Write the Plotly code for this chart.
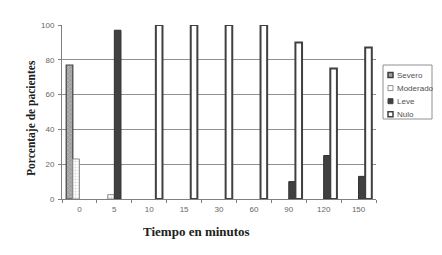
import plotly.graph_objects as go

# Tiempo (min) y porcentaje de pacientes por grado (None = sin barra)
tiempos = ["0", "5", "10", "15", "30", "60", "90", "120", "150"]
severo = [77, None, None, None, None, None, None, None, None]
moderado = [23, 2.5, None, None, None, None, None, None, None]
leve = [None, 97, None, None, None, None, 10, 25, 13]
nulo = [None, None, 100, 100, 100, 100, 90, 75, 87]
y_ticks = [0, 20, 40, 60, 80, 100]

series = [
    ("Severo", severo, dict(color="#b0b0b0", line=dict(color="#404040", width=1.2),
                            pattern=dict(shape="x", fgcolor="#707070", size=3, solidity=0.4))),
    ("Moderado", moderado, dict(color="#ffffff", line=dict(color="#909090", width=1),
                                pattern=dict(shape=".", fgcolor="#b0b0b0", size=3, solidity=0.3))),
    ("Leve", leve, dict(color="#404040", line=dict(color="#303030", width=1))),
    ("Nulo", nulo, dict(color="#ffffff", line=dict(color="#404040", width=2))),
]

fig = go.Figure()
for name, vals, marker in series:
    fig.add_bar(x=tiempos, y=vals, name=name, marker=marker, showlegend=False)

# Área del gráfico en px y conversión a coordenadas de papel
L, R, T, B = 62, 376, 25, 199
def px_x(v): return (v - L) / (R - L)
def px_y(v): return (B - v) / (B - T)

serif_bold = dict(family="Liberation Serif, Times New Roman", color="#202020", weight="bold")

# Leyenda compacta dibujada a mano
shapes = [dict(type="rect", xref="paper", yref="paper",
               x0=px_x(383), x1=px_x(432), y0=px_y(119), y1=px_y(65),
               line=dict(color="#909090", width=1), fillcolor="white")]
legend_style = {
    "Severo": dict(fill="#a0a0a0", line="#404040", w=1.5),
    "Moderado": dict(fill="#ffffff", line="#909090", w=1),
    "Leve": dict(fill="#404040", line="#404040", w=1),
    "Nulo": dict(fill="#ffffff", line="#404040", w=1.5),
}
annotations = []
for i, (name, _, _) in enumerate(series):
    yc = 75 + i * 13.1
    st = legend_style[name]
    shapes.append(dict(type="rect", xref="paper", yref="paper",
                       x0=px_x(388), x1=px_x(393), y0=px_y(yc + 2.5), y1=px_y(yc - 2.5),
                       line=dict(color=st["line"], width=st["w"]), fillcolor=st["fill"]))
    annotations.append(dict(text=name, xref="paper", yref="paper",
                            x=px_x(394.5), y=px_y(yc), xanchor="left", yanchor="middle",
                            showarrow=False, font=dict(size=8, color="#505050")))

# Títulos de los ejes
annotations.append(dict(text="Tiempo en minutos", xref="paper", yref="paper",
                        x=px_x(196), y=px_y(231.5), xanchor="center", yanchor="middle",
                        showarrow=False, font=dict(size=13, **serif_bold)))
annotations.append(dict(text="Porcentaje de pacientes", xref="paper", yref="paper",
                        x=px_x(31), y=px_y(118), xanchor="center", yanchor="middle",
                        textangle=-90, showarrow=False, font=dict(size=11.5, **serif_bold)))

fig.update_layout(
    width=442, height=255,
    margin=dict(l=L, r=442 - R, t=T, b=255 - B),
    paper_bgcolor="white", plot_bgcolor="white",
    barmode="group", bargap=0.24, bargroupgap=0,
    font=dict(family="Liberation Sans, Arial", size=8, color="#666666"),
    shapes=shapes, annotations=annotations,
    xaxis=dict(
        showline=True, linecolor="#808080", linewidth=1,
        ticks="outside", tickson="boundaries", ticklen=3, tickcolor="#808080",
        ticklabelstandoff=2, showgrid=False,
    ),
    yaxis=dict(
        range=[0, 100], tickvals=y_ticks,
        showline=True, linecolor="#808080", linewidth=1,
        ticks="outside", ticklen=3, tickcolor="#808080",
        ticklabelstandoff=2,
        showgrid=True, gridcolor="#909090", gridwidth=1,
        zeroline=False,
    ),
)

fig.write_html("out.html")
